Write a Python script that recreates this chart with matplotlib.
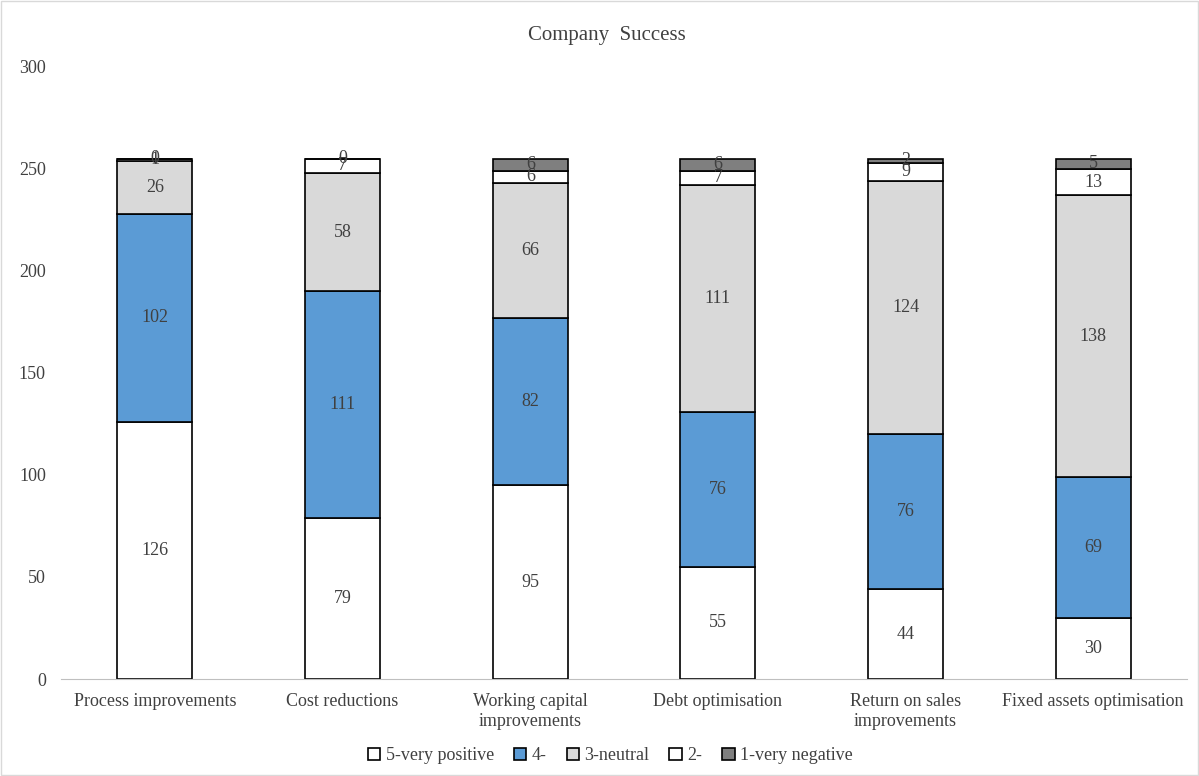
import matplotlib.pyplot as plt
from matplotlib.patches import Rectangle
import numpy as np

categories = ['Process improvements', 'Cost reductions', 'Working capital\nimprovements',
              'Debt optimisation', 'Return on sales\nimprovements', 'Fixed assets optimisation']
very_positive = [126, 79, 95, 55, 44, 30]
four = [102, 111, 82, 76, 76, 69]
neutral = [26, 58, 66, 111, 124, 138]
two = [1, 7, 6, 7, 9, 13]
very_negative = [0, 0, 6, 6, 2, 5]

series = [
    ('5-very positive', very_positive, '#FFFFFF'),
    ('4-', four, '#5B9BD5'),
    ('3-neutral', neutral, '#D9D9D9'),
    ('2-', two, '#FFFFFF'),
    ('1-very negative', very_negative, '#7F7F7F'),
]

plt.rcParams['font.family'] = ['Liberation Serif', 'DejaVu Serif']
txt = '#404040'

fig = plt.figure(figsize=(11.99, 7.76), dpi=100)
ax = fig.add_axes([0.051, 0.125, 0.939, 0.789])

x = np.arange(len(categories))
bottom = np.zeros(len(categories))
for name, vals, col in series:
    vals = np.array(vals, dtype=float)
    ax.bar(x, vals, 0.4, bottom=bottom, color=col, edgecolor='black',
           linewidth=1.2, label=name, zorder=2)
    for xi, b, v in zip(x, bottom, vals):
        ax.text(xi, b + v / 2, '%d' % v, ha='center', va='center',
                fontsize=13, color=txt, zorder=3)
    bottom += vals

ax.set_xlim(-0.5, len(categories) - 0.5)
ax.set_ylim(0, 300)
ax.set_yticks(range(0, 301, 50))
ax.set_xticks(x)
ax.set_xticklabels(categories, fontsize=13, color=txt, linespacing=1.25)
ax.tick_params(axis='both', length=0, labelsize=13, labelcolor=txt)
ax.tick_params(axis='y', pad=11)
ax.tick_params(axis='x', pad=10)
for s in ['top', 'right', 'left']:
    ax.spines[s].set_visible(False)
ax.spines['bottom'].set_color('#BFBFBF')

fig.text(0.506, 0.954, 'Company  Success', ha='center', va='center', fontsize=15, color=txt)

leg = fig.legend(loc='center', bbox_to_anchor=(0.509, 0.026), ncol=5, frameon=False,
                 fontsize=13, handlelength=0.7, handleheight=0.7, handletextpad=0.3,
                 columnspacing=1.1)
for t in leg.get_texts():
    t.set_color(txt)

fig.patches.append(Rectangle((0.001, 0.001), 0.998, 0.998, transform=fig.transFigure,
                             fill=False, edgecolor='#D9D9D9', linewidth=1))

fig.savefig('out.png', dpi=100)
